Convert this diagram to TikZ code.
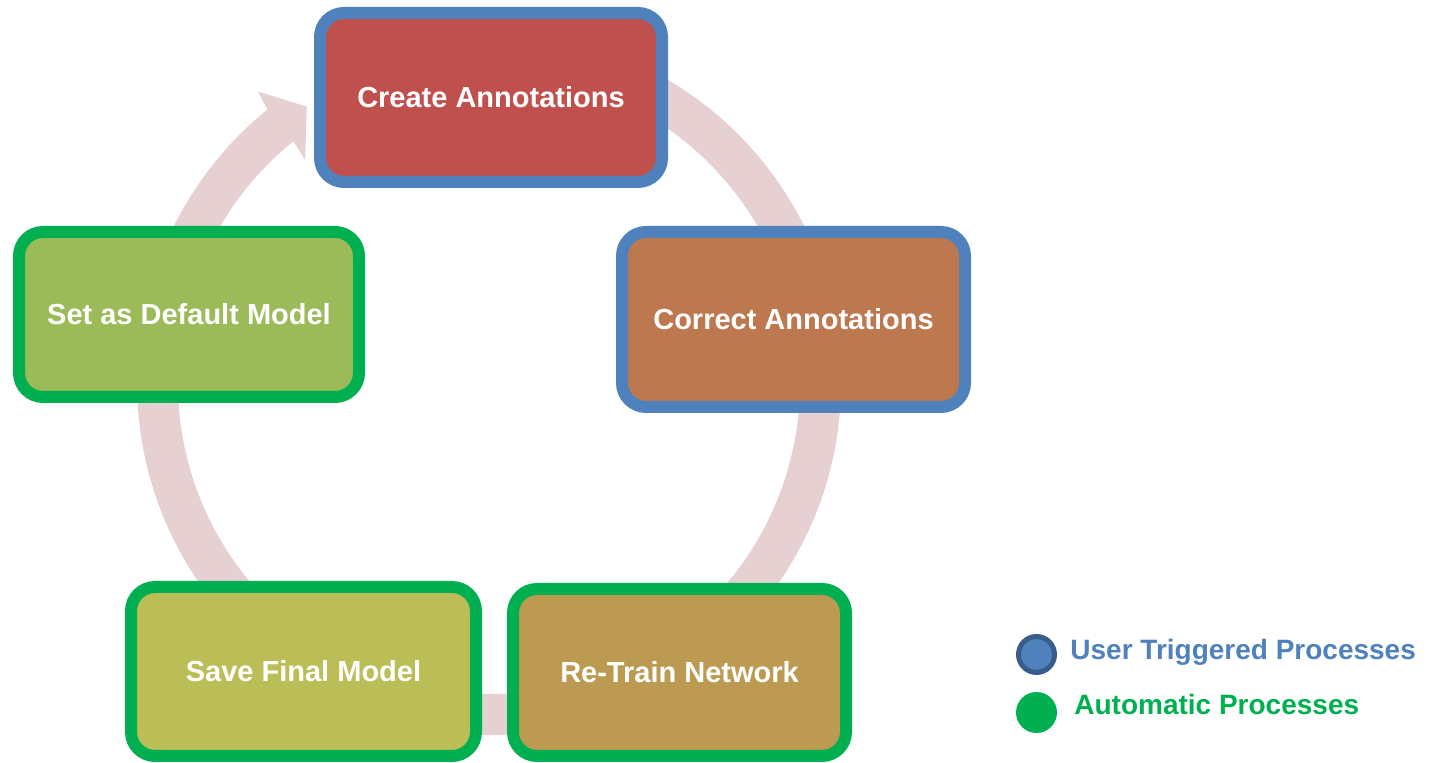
\documentclass[tikz,border=0pt]{standalone}
\usepackage{fontspec}
\setmainfont{Liberation Sans}
\usetikzlibrary{positioning}
\definecolor{userblue}{HTML}{4F81BD}
\definecolor{userdark}{HTML}{385D8A}
\definecolor{autogreen}{HTML}{00B050}
\definecolor{ringpink}{HTML}{E7D0D1}
\definecolor{createfill}{HTML}{C0504D}
\definecolor{correctfill}{HTML}{BE7850}
\definecolor{retrainfill}{HTML}{BC9A52}
\definecolor{savefill}{HTML}{BBBD57}
\definecolor{defaultfill}{HTML}{9BBB59}
\tikzset{
    proc/.style={rounded corners=12pt, line width=6pt, text=white, inner sep=0pt, font=\bfseries\fontsize{14.5}{17}\selectfont}, % common box look
    user proc/.style={proc, draw=userblue},
    auto proc/.style={proc, draw=autogreen},
    legend dot/.style={circle, inner sep=0pt},
    legend text/.style={anchor=base west, inner sep=0pt, font=\bfseries\fontsize{14}{17}\selectfont}
}

\begin{document}
\begin{tikzpicture}[x=0.5pt, y=0.5pt]
    \useasboundingbox (0,0) rectangle (1435,763);

    % the cycle band with its arrow head
    \begin{scope}[shift={(489,380)}]
        \fill[ringpink] (100:352) arc[start angle=100, end angle=-231, radius=352]
            -- (-231.6:372) -- (-236.6:331) -- (-230.5:289) -- (-231:311)
            arc[start angle=-231, end angle=100, radius=311] -- cycle;
    \end{scope}

    \node[user proc, fill=createfill, minimum width=171pt, minimum height=84.5pt] (create) at (491,665.5) {Create Annotations};
    \node[user proc, fill=correctfill, minimum width=171.5pt, minimum height=87.5pt] (correct) at (793.5,443.5) {Correct Annotations};
    \node[auto proc, fill=retrainfill, minimum width=166.5pt, minimum height=83.5pt] (retrain) at (679.5,90.5) {Re-Train Network};
    \node[auto proc, fill=savefill, minimum width=172.5pt, minimum height=84.5pt] (savefinal) at (303.5,91.5) {Save Final Model};
    \node[auto proc, fill=defaultfill, minimum width=170pt, minimum height=82.5pt] (setdefault) at (189,448.5) {Set as Default Model};

    % legend
    \node[legend dot, fill=userblue, draw=userdark, line width=2.5pt, minimum size=18pt] (userdot) at (1036.5,108.5) {};
    \node[legend dot, fill=autogreen, minimum size=20.5pt] (autodot) at (1036.5,50.5) {};
    \node[legend text, text=userblue] (usertext) at (1070,103) {User Triggered Processes};
    \node[legend text, text=autogreen] (autotext) at (1074,48) {Automatic Processes};
\end{tikzpicture}
\end{document}
